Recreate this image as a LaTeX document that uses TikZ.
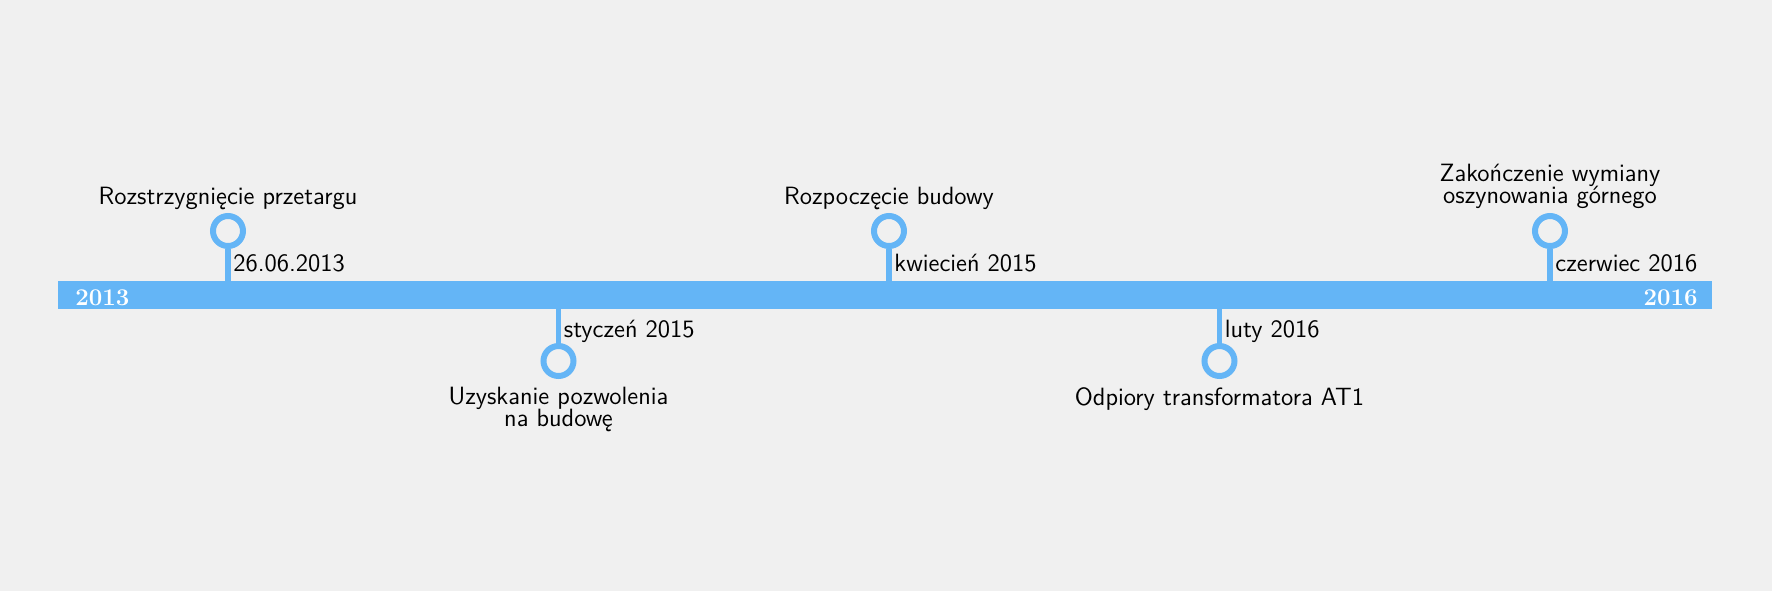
\documentclass[tikz,border=0pt]{standalone}
\usepackage{fontspec}
\usetikzlibrary{positioning}
\definecolor{tlblue}{HTML}{64B5F6}
\definecolor{tlbg}{HTML}{F0F0F0}
\newcommand{\evfont}{\sffamily\fontsize{12.5}{11}\selectfont\lineskiplimit=-5pt\relax}
\tikzset{
  event/.style={circle, draw=tlblue, fill=tlbg, line width=3pt, minimum size=15pt, inner sep=0pt},
  stem/.style={draw=tlblue, line width=2.8pt},
  eventlabel/.style={font=\evfont, align=center, inner sep=0pt},
  datelabel/.style={font=\fontsize{12.5}{14}\selectfont\sffamily, inner sep=0pt},
  yearlabel/.style={font=\fontsize{12}{14}\selectfont\rmfamily\bfseries, text=white, inner sep=0pt}
}
\begin{document}
\begin{tikzpicture}[x=0.5pt, y=0.5pt]
    \fill[tlbg] (-885,-296) rectangle (887,295);
    \useasboundingbox (-885,-296) rectangle (887,295);

    \node[fill=tlblue, minimum width=827pt, minimum height=14pt, inner sep=0pt, outer sep=0pt] (bar) at (0,0) {};
    \node[yearlabel, anchor=base west] (y2013) at ([xshift=8.5pt, yshift=-5pt]bar.west) {2013};
    \node[yearlabel, anchor=base east] (y2016) at ([xshift=-7pt, yshift=-5pt]bar.east) {2016};

    \node[event] (e1) at (-657,64) {};
    \node[event] (e2) at (-326.5,-66) {};
    \node[event] (e3) at (4,64) {};
    \node[event] (e4) at (334.5,-66) {};
    \node[event] (e5) at (665,64) {};

    \draw[stem] (e1.south) -- (e1 |- bar.north) coordinate (s1);
    \draw[stem] (e2.north) -- (e2 |- bar.south) coordinate (s2);
    \draw[stem] (e3.south) -- (e3 |- bar.north) coordinate (s3);
    \draw[stem] (e4.north) -- (e4 |- bar.south) coordinate (s4);
    \draw[stem] (e5.south) -- (e5 |- bar.north) coordinate (s5);

    \node[datelabel, above right=4.5pt and 2.5pt of s1] (d1) {26.06.2013};
    \node[datelabel, below right=5.5pt and 2.5pt of s2] (d2) {styczeń 2015};
    \node[datelabel, above right=4.5pt and 2.5pt of s3] (d3) {kwiecień 2015};
    \node[datelabel, below right=5.5pt and 2.5pt of s4] (d4) {luty 2016};
    \node[datelabel, above right=4.5pt and 2.5pt of s5] (d5) {czerwiec 2016};

    \node[eventlabel, above=1.5pt of e1] (l1) {Rozstrzygnięcie przetargu};
    \node[eventlabel, below=4pt of e2] (l2) {Uzyskanie pozwolenia\\na budowę};
    \node[eventlabel, above=1.5pt of e3] (l3) {Rozpoczęcie budowy};
    \node[eventlabel, below=4pt of e4] (l4) {Odpiory transformatora AT1};
    \node[eventlabel, above=2pt of e5] (l5) {Zakończenie wymiany\\oszynowania górnego};
\end{tikzpicture}
\end{document}
